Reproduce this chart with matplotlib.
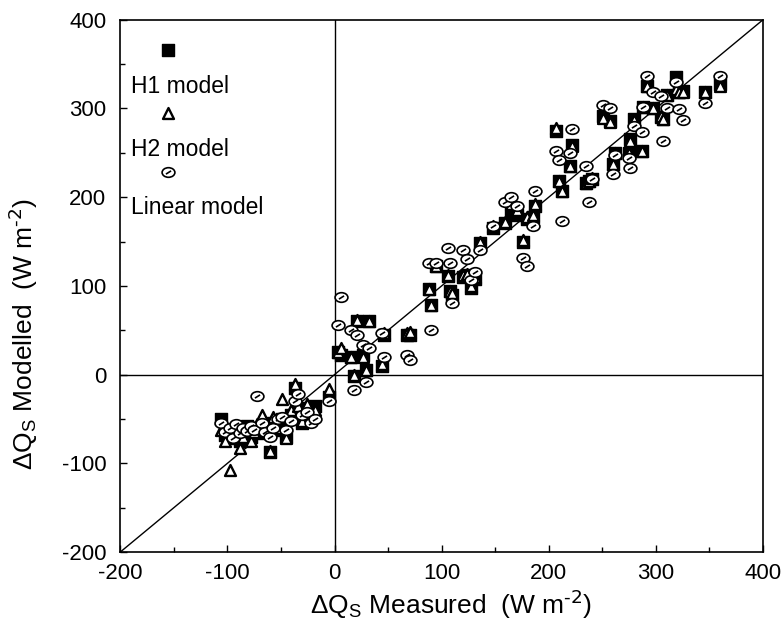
import numpy as np
import matplotlib
matplotlib.use('Agg')
import matplotlib.pyplot as plt
from matplotlib.path import Path
from matplotlib.transforms import Affine2D

# --- Data ---
measured = [-106, -102, -98, -95, -92, -88, -85, -82, -78, -75, -72, -68, -65,
            -60, -57, -53, -49, -45, -41, -37, -34, -30, -26, -22, -18, -5,
            3, 6, 15, 18, 21, 27, 29, 32, 44, 46, 68, 70, 88, 90,
            95, 106, 108, 110, 120, 124, 127, 131, 136, 148, 159, 165, 170,
            176, 180, 185, 187,
            207, 210, 212, 220, 222, 235, 238, 240, 251, 257, 260, 262, 275,
            276, 280, 287, 288, 292, 297, 305, 307, 310, 319, 322, 325, 346, 360]

h1_model = [-50, -68, -72, -62, -60, -75, -65, -58, -70, -63, -60, -66, -58,
            -87, -55, -62, -50, -70, -45, -15, -40, -55, -38, -48, -35, -25,
            25, 22, 20, -2, 60, 22, 5, 60, 10, 45, 45, 45, 96, 79,
            122, 111, 94, 90, 110, 112, 98, 108, 148, 165, 171, 185, 180,
            150, 175, 178, 190,
            275, 218, 207, 235, 259, 216, 218, 220, 291, 286, 237, 250, 250,
            265, 288, 252, 302, 325, 300, 290, 288, 315, 335, 318, 320, 319, 327]

h2_model = [-62, -75, -107, -66, -58, -83, -70, -60, -75, -65, -56, -45, -62,
            -86, -48, -60, -28, -71, -40, -11, -35, -52, -33, -45, -40, -16,
            25, 30, 20, 0, 62, 20, 5, 60, 12, 47, 47, 48, 96, 79,
            122, 112, 94, 92, 112, 113, 100, 110, 150, 168, 172, 192, 185,
            152, 178, 180, 192,
            278, 218, 207, 235, 258, 216, 218, 222, 289, 285, 237, 250, 250,
            263, 287, 252, 302, 325, 300, 292, 288, 315, 322, 318, 318, 318, 325]

linear_model = [-54, -65, -60, -72, -56, -66, -60, -64, -58, -62, -24, -55, -65,
                -70, -60, -50, -48, -63, -52, -30, -22, -45, -42, -55, -50, -30,
                56, 87, 50, -17, 45, 33, -8, 30, 47, 20, 22, 17, 126, 50,
                126, 143, 126, 81, 141, 130, 107, 116, 141, 167, 195, 200, 190,
                131, 122, 167, 207,
                252, 242, 173, 250, 277, 235, 194, 220, 304, 300, 226, 248, 244,
                233, 280, 273, 302, 336, 319, 314, 263, 300, 330, 299, 287, 306, 336]

axis_ticks = [-200, -100, 0, 100, 200, 300, 400]
legend_labels = ['H1 model', 'H2 model', 'Linear model']

# --- Style ---
plt.rcParams['font.family'] = ['Liberation Sans', 'DejaVu Sans']
plt.rcParams['mathtext.default'] = 'regular'
plt.rcParams['axes.unicode_minus'] = False

# flat ellipse with a little slash inside, like the scanned markers
ellipse = Path.unit_circle().transformed(Affine2D().scale(1.0, 0.75))
slash = Path([(-0.4, -0.25), (0.4, 0.25)], [Path.MOVETO, Path.LINETO])
ellipse_marker = Path.make_compound_path(ellipse, slash)

sq_kw = dict(marker='s', s=70, c='black', edgecolors='black', linewidths=1.0)
tri_kw = dict(marker='^', s=62, c='white', edgecolors='black', linewidths=1.7)
ell_kw = dict(marker=ellipse_marker, s=85, c='white', edgecolors='black', linewidths=1.2)

fig = plt.figure(figsize=(7.81, 6.36), dpi=100)
ax = fig.add_axes([0.154, 0.132, 0.823, 0.837])

# --- Reference lines ---
ax.axline((0, 0), slope=1, color='black', lw=1.0, zorder=1)
ax.axhline(0, color='black', lw=1.0, zorder=1)
ax.axvline(0, color='black', lw=1.0, zorder=1)

# --- Points ---
ax.scatter(measured, h1_model, zorder=2, **sq_kw)
ax.scatter(measured, h2_model, zorder=3, **tri_kw)
ax.scatter(measured, linear_model, zorder=4, **ell_kw)

# --- Legend (key above each label) ---
key_kw = [sq_kw, tri_kw, ell_kw]
key_y = [0.944, 0.825, 0.714]
label_y = [0.874, 0.756, 0.647]
for kw, ky, ly, lab in zip(key_kw, key_y, label_y, legend_labels):
    ax.scatter([0.075], [ky], transform=ax.transAxes, zorder=5, clip_on=False, **kw)
    ax.text(0.016, ly, lab, transform=ax.transAxes, fontsize=16.5,
            ha='left', va='center')

# --- Axes ---
ax.set_xlim(-200, 400)
ax.set_ylim(-200, 400)
ax.set_xticks(axis_ticks)
ax.set_yticks(axis_ticks)
ax.set_xticks(np.arange(-150, 400, 100), minor=True)
ax.set_yticks(np.arange(-150, 400, 100), minor=True)
ax.tick_params(which='both', direction='in', labelsize=16, width=1.0)
ax.tick_params(which='major', length=5)
ax.tick_params(which='minor', length=3.5)
ax.tick_params(axis='x', pad=8)
ax.tick_params(axis='y', pad=10)
for sp in ax.spines.values():
    sp.set_linewidth(1.2)

ax.set_xlabel(r'$\Delta$Q$_S$ Measured  (W m$^{\text{-2}}$)', fontsize=19)
ax.set_ylabel(r'$\Delta$Q$_S$ Modelled  (W m$^{\text{-2}}$)', fontsize=19)
ax.xaxis.set_label_coords(0.515, -0.068)
ax.yaxis.set_label_coords(-0.125, 0.41)

fig.savefig('out.png', dpi=100)
